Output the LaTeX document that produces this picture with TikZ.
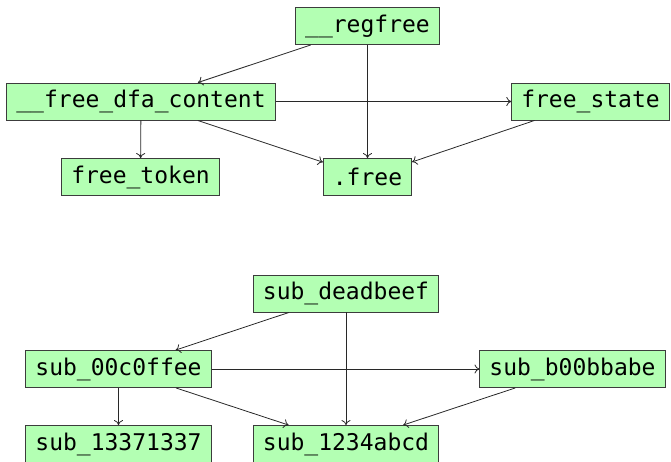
\documentclass[tikz,border=0pt]{standalone}
\usepackage{fontspec}
\setmonofont{DejaVu Sans Mono}
\usetikzlibrary{arrows.meta}
\definecolor{boxfill}{RGB}{179,255,179}
\definecolor{boxline}{RGB}{60,60,60}
\definecolor{edgecol}{RGB}{40,40,40}
\begin{document}
\begin{tikzpicture}[x=1pt,y=-1pt,
  fn/.style={draw=boxline,fill=boxfill,line width=0.9pt,rectangle,
    inner xsep=9.5pt,inner ysep=0pt,minimum height=37pt,
    font=\fontsize{23}{27}\selectfont\ttfamily},
  call/.style={draw=edgecol,line width=0.8pt,-{To[length=5pt,width=9pt]}}]
\useasboundingbox (0,0) rectangle (671,462);
% first call graph
\node[fn] (regfree) at (367.5,26) {\_\_regfree};
\node[fn] (dfa) at (141,101.5) {\_\_free\_dfa\_content};
\node[fn] (state) at (590.5,101.5) {free\_state};
\node[fn] (token) at (140.5,177) {free\_token};
\node[fn] (dotfree) at (367.5,177) {.free};
\draw[call] (regfree) -- (dfa);
\draw[call] (regfree) -- (dotfree);
\draw[call] (dfa) -- (state);
\draw[call] (dfa) -- (token);
\draw[call] (dfa) -- (dotfree);
\draw[call] (state) -- (dotfree);
% second call graph
\node[fn] (dead) at (346,293.5) {sub\_deadbeef};
\node[fn] (coffee) at (118.5,369) {sub\_00c0ffee};
\node[fn] (babe) at (572.5,369) {sub\_b00bbabe};
\node[fn] (leet) at (118.5,444) {sub\_13371337};
\node[fn] (abcd) at (346,444) {sub\_1234abcd};
\draw[call] (dead) -- (coffee);
\draw[call] (dead) -- (abcd);
\draw[call] (coffee) -- (babe);
\draw[call] (coffee) -- (leet);
\draw[call] (coffee) -- (abcd);
\draw[call] (babe) -- (abcd);
\end{tikzpicture}
\end{document}
